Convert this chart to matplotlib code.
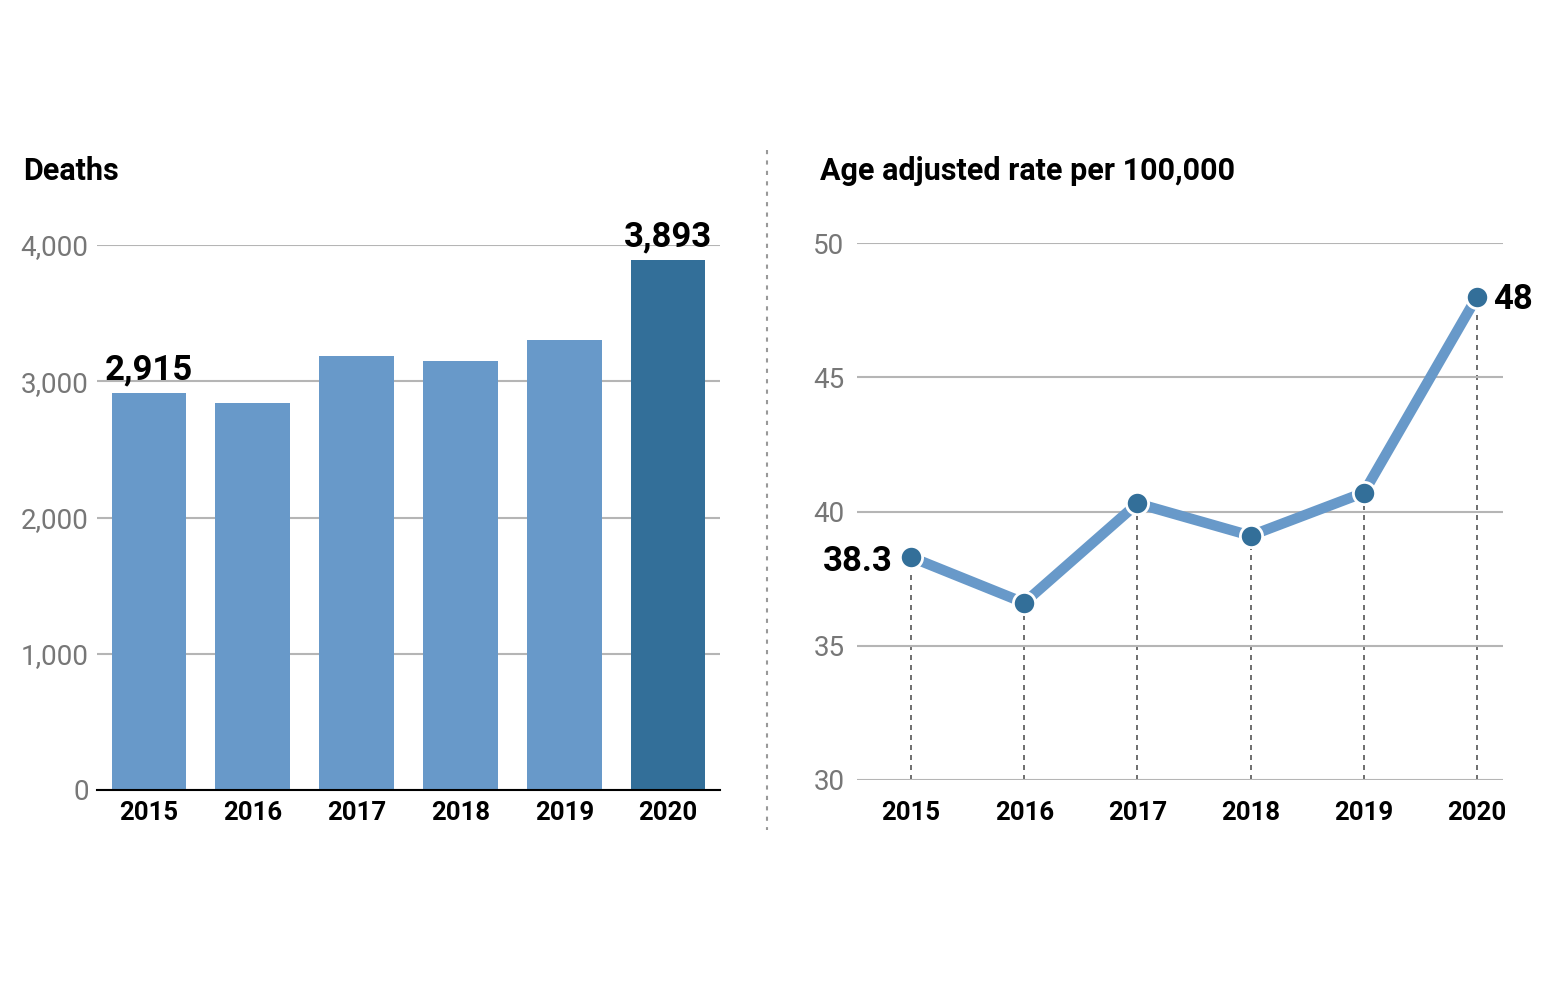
import numpy as np
import matplotlib
matplotlib.use('Agg')
import matplotlib.pyplot as plt
from matplotlib import font_manager

names = {f.name for f in font_manager.fontManager.ttflist}
fam = [n for n in ['Roboto', 'Open Sans', 'DejaVu Sans'] if n in names]
plt.rcParams['font.family'] = fam + ['DejaVu Sans']

years = ['2015', '2016', '2017', '2018', '2019', '2020']
deaths = [2915, 2840, 3185, 3150, 3303, 3893]
rate = [38.3, 36.6, 40.3, 39.1, 40.7, 48.0]
death_ticks = [0, 1000, 2000, 3000, 4000]
rate_ticks = [30, 35, 40, 45, 50]

light = '#6899c9'
dark = '#336f99'
grid_c = '#b5b5b5'
tick_c = '#777777'

fig = plt.figure(figsize=(15.6, 10.02), dpi=100)

# ---- left: deaths bars
ax1 = fig.add_axes([97/1560, 1 - 790/1002, 623/1560, 545/1002])
x = np.arange(len(years))
cols = [light]*(len(years)-1) + [dark]
ax1.bar(x, deaths, width=0.72, color=cols, zorder=2)
ax1.set_xlim(-0.5, 5.5)
ax1.set_ylim(0, 4000)
ax1.set_yticks(death_ticks)
ax1.set_yticklabels([f'{v:,}' for v in death_ticks])
ax1.yaxis.grid(True, color=grid_c, lw=1.5, zorder=0)
ax1.set_xticks(x)
ax1.set_xticklabels(years, fontweight='bold', fontsize=18.5)
ax1.tick_params(axis='x', length=0, pad=8)
ax1.tick_params(axis='y', length=0, pad=6, labelsize=20, labelcolor=tick_c)
for s in ['top', 'right', 'left']:
    ax1.spines[s].set_visible(False)
ax1.spines['bottom'].set_color('black')
ax1.spines['bottom'].set_linewidth(1.5)
ax1.spines['bottom'].set_zorder(3)
for i in [0, 5]:
    ax1.text(x[i], deaths[i] + 45, f'{deaths[i]:,}', ha='center', va='bottom',
             fontsize=25, fontweight='bold', clip_on=False, zorder=4)

fig.text(23/1560, 1 - 171/1002, 'Deaths', fontsize=22, fontweight='bold', va='center')

# ---- right: rate line
ax2 = fig.add_axes([857/1560, 1 - 780/1002, 646/1560, 537/1002])
ax2.set_xlim(-0.477, 5.23)
ax2.set_ylim(30, 50)
ax2.set_yticks(rate_ticks)
ax2.yaxis.grid(True, color=grid_c, lw=1.5, zorder=0)
ax2.set_xticks(x)
ax2.set_xticklabels(years, fontweight='bold', fontsize=18.5)
ax2.tick_params(axis='x', length=0, pad=15)
ax2.tick_params(axis='y', length=0, pad=9, labelsize=20, labelcolor=tick_c)
for s in ax2.spines.values():
    s.set_visible(False)
ax2.vlines(x, 30, rate, colors='#555555', linestyles=(0, (3, 3)), lw=1.2, zorder=1)
ax2.plot(x, rate, color=light, lw=7.5, solid_capstyle='round', zorder=2)
ax2.plot(x, rate, 'o', ms=16, mfc=dark, mec='white', mew=2, zorder=3, clip_on=False)
ax2.text(x[0] - 0.16, rate[0] - 0.15, f'{rate[0]:g}', ha='right', va='center',
         fontsize=25, fontweight='bold')
ax2.text(x[5] + 0.14, rate[5] - 0.1, f'{rate[5]:g}', ha='left', va='center',
         fontsize=25, fontweight='bold', clip_on=False)

fig.text(820/1560, 1 - 171/1002, 'Age adjusted rate per 100,000', fontsize=22,
         fontweight='bold', va='center')

# divider
fig.add_artist(plt.Line2D([767/1560, 767/1560], [1 - 150/1002, 1 - 830/1002],
                          color='#999999', lw=1.5, ls=(0, (2, 3))))

fig.savefig('out.png', dpi=100, facecolor='white')
